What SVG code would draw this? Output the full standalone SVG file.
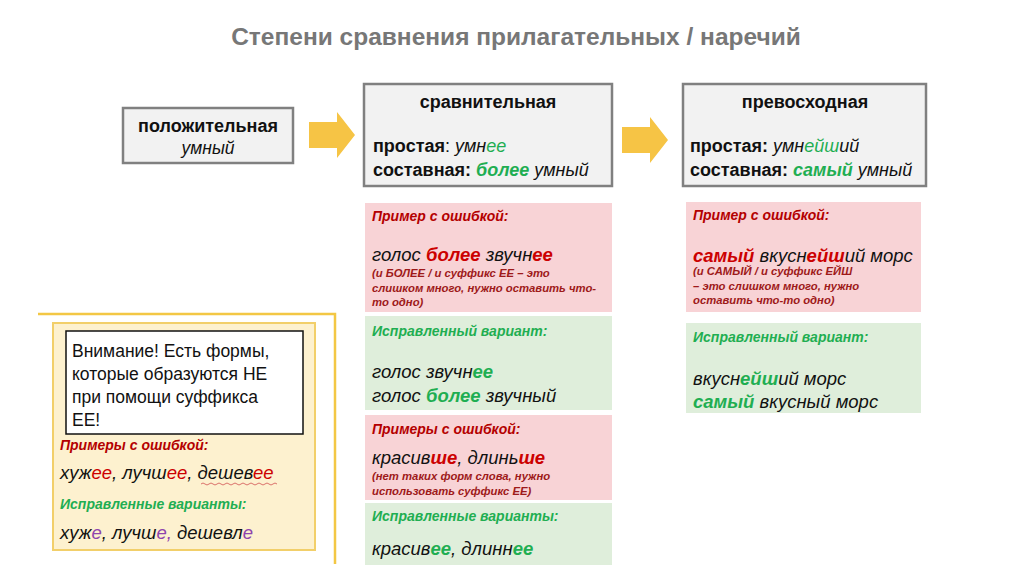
<svg xmlns="http://www.w3.org/2000/svg" width="1024" height="574" viewBox="0 0 1024 574">
<style>
text{font-family:"Liberation Sans",Arial,sans-serif;fill:#111}
.title{font-size:24.5px;font-weight:bold;fill:#777}
.hd{font-size:18px;font-weight:bold}
.ln{font-size:18px}
.att{font-size:17.5px}
.b{font-weight:bold}
.i{font-style:italic}
.g{fill:#1fae52}
.r{fill:#cc0000}
.p{fill:#8e44ad}
.lblr{font-size:14px;font-weight:bold;font-style:italic;fill:#b40000}
.lblg{font-size:14px;font-weight:bold;font-style:italic;fill:#1fae52}
.ex{font-size:18.5px;font-style:italic}
.note{font-size:11.3px;font-weight:bold;font-style:italic;fill:#9e1a1a}
.gray{fill:#f2f2f2;stroke:#808080;stroke-width:2.5}
.pink{fill:#f8d3d6}
.green{fill:#dfeedb}
.arrow{fill:#f6c445}
</style>
<text class="title" x="516" y="45" text-anchor="middle">Степени сравнения прилагательных / наречий</text>

<g id="connectors">
<polygon class="arrow" points="309,122 337,122 337,112 355,135 337,158 337,148 309,148"/>
<polygon class="arrow" points="622,127 650,127 650,117 668,140 650,163 650,153 622,153"/>
</g>

<g id="positive">
<rect class="gray" x="123" y="108" width="170" height="55"/>
<text class="hd" x="208" y="132" text-anchor="middle">положительная</text>
<text class="i" x="208" y="154" font-size="17.5" text-anchor="middle">умный</text>
</g>

<g id="comparative">
<rect class="gray" x="364" y="84" width="248" height="102"/>
<text class="hd" x="488" y="108" text-anchor="middle">сравнительная</text>
<text class="ln" x="373" y="152"><tspan class="b">простая</tspan>: <tspan class="i">умн</tspan><tspan class="i g">ее</tspan></text>
<text class="ln" x="373" y="176"><tspan class="b">составная: </tspan><tspan class="b i g">более</tspan><tspan class="i"> умный</tspan></text>
</g>

<g id="superlative">
<rect class="gray" x="683" y="84" width="243" height="102"/>
<text class="hd" x="805" y="108" text-anchor="middle">превосходная</text>
<text class="ln" x="690" y="152"><tspan class="b">простая: </tspan><tspan class="i">умн</tspan><tspan class="i g">ейш</tspan><tspan class="i">ий</tspan></text>
<text class="ln" x="690" y="176"><tspan class="b">составная: </tspan><tspan class="b i g">самый</tspan><tspan class="i"> умный</tspan></text>
</g>

<g id="comp-error1">
<rect class="pink" x="365" y="203" width="247" height="109"/>
<text class="lblr" x="372" y="221">Пример с ошибкой:</text>
<text class="ex" x="372" y="261">голос <tspan class="b r">более</tspan> звучн<tspan class="b r">ее</tspan></text>
<text class="note" x="372" y="277">(и БОЛЕЕ / и суффикс ЕЕ  – это</text>
<text class="note" x="372" y="292">слишком много, нужно оставить что-</text>
<text class="note" x="372" y="306">то одно)</text>
</g>

<g id="comp-fix1">
<rect class="green" x="365" y="316" width="247" height="94"/>
<text class="lblg" x="372" y="336">Исправленный вариант:</text>
<text class="ex" x="372" y="378">голос звучн<tspan class="b g">ее</tspan></text>
<text class="ex" x="372" y="402">голос <tspan class="b g">более</tspan> звучный</text>
</g>

<g id="comp-error2">
<rect class="pink" x="365" y="415" width="247" height="85"/>
<text class="lblr" x="372" y="434">Примеры с ошибкой:</text>
<text class="ex" x="372" y="464">красив<tspan class="b r">ше</tspan>, длинь<tspan class="b r">ше</tspan></text>
<text class="note" x="372" y="480">(нет таких форм слова, нужно</text>
<text class="note" x="372" y="495">использовать суффикс ЕЕ)</text>
</g>

<g id="comp-fix2">
<rect class="green" x="365" y="503" width="247" height="62"/>
<text class="lblg" x="372" y="521">Исправленные варианты:</text>
<text class="ex" x="372" y="555">красив<tspan class="b g">ее</tspan>, длинн<tspan class="b g">ее</tspan></text>
</g>

<g id="sup-error">
<rect class="pink" x="686" y="202" width="235" height="110"/>
<text class="lblr" x="693" y="220">Пример с ошибкой:</text>
<text class="ex" x="693" y="262"><tspan class="b r">самый</tspan> вкусн<tspan class="b r">ейш</tspan>ий морс</text>
<text class="note" x="693" y="275">(и САМЫЙ  / и суффикс ЕЙШ</text>
<text class="note" x="693" y="290">– это слишком много, нужно</text>
<text class="note" x="693" y="304">оставить что-то одно)</text>
</g>

<g id="sup-fix">
<rect class="green" x="686" y="323" width="235" height="90"/>
<text class="lblg" x="693" y="342">Исправленный вариант:</text>
<text class="ex" x="693" y="385">вкусн<tspan class="b g">ейш</tspan>ий морс</text>
<text class="ex" x="693" y="408"><tspan class="b g">самый</tspan> вкусный морс</text>
</g>

<g id="exceptions">
<polyline points="38,314 335,314 335,564" fill="none" stroke="#f3c744" stroke-width="2.5"/>
<rect x="53" y="323" width="262" height="227" fill="#fdf1cf" stroke="#f2cf6a" stroke-width="2"/>
<rect x="66" y="331" width="237" height="103" fill="#ffffff" stroke="#111" stroke-width="1.5"/>
<text class="att" x="72" y="357">Внимание! Есть формы,</text>
<text class="att" x="72" y="380">которые образуются НЕ</text>
<text class="att" x="72" y="403">при помощи суффикса</text>
<text class="att" x="72" y="426">ЕЕ!</text>
<text class="lblr" x="60" y="450">Примеры с ошибкой:</text>
<text class="ex" x="60" y="479">хуж<tspan class="r">ее</tspan>, лучш<tspan class="r">ее</tspan>, дешев<tspan class="r">ее</tspan></text>
<path d="M201,484 q2,-2 4,0 t4,0 t4,0 t4,0 t4,0 t4,0 t4,0 t4,0 t4,0 t4,0 t4,0 t4,0 t4,0 t4,0 t4,0 t4,0 t4,0 t4,0 t4,0" fill="none" stroke="#d05050" stroke-width="0.8"/>
<text class="lblg" x="60" y="509">Исправленные варианты:</text>
<text class="ex" x="60" y="539">хуж<tspan class="p">е</tspan>, лучш<tspan class="p">е</tspan><tspan class="p">,</tspan> дешевл<tspan class="p">е</tspan></text>
</g>
</svg>
